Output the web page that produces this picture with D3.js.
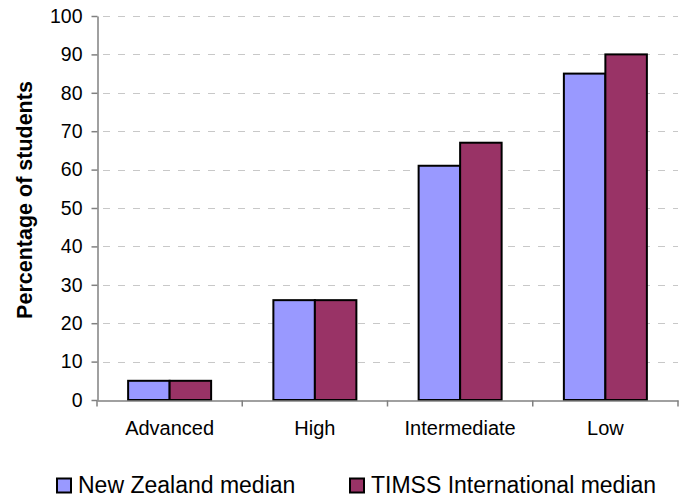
<!DOCTYPE html>
<html>
<head>
<meta charset="utf-8">
<script src="https://cdn.jsdelivr.net/npm/d3@7"></script>
<style>
  html, body { margin: 0; padding: 0; background: #fff; }
  svg { display: block; }
  text { font-family: "Liberation Sans", Arial, sans-serif; fill: #000; }
</style>
</head>
<body>
<svg id="chart" width="687" height="499"></svg>
<script>
const categories = ["Advanced", "High", "Intermediate", "Low"];
const seriesNames = ["New Zealand median", "TIMSS International median"];
const nzValues = [5, 26, 61, 85];
const timssValues = [5, 26, 67, 90];
const yTicks = [0, 10, 20, 30, 40, 50, 60, 70, 80, 90, 100];
const colors = ["#9999FF", "#993366"];

(function () {
const svg = d3.select("#chart");
const pLeft = 97, pRight = 678, pTop = 16, pBottom = 400;

const x = d3.scaleBand().domain(categories).range([pLeft, pRight]).paddingInner(0).paddingOuter(0);
const xs = d3.scaleBand().domain([0, 1]).range([0, x.bandwidth()]).paddingInner(0).paddingOuter(0.75);
const y = d3.scaleLinear().domain([0, 100]).range([pBottom, pTop]);

// gridlines
svg.append("g").selectAll("line").data(yTicks.filter(d => d > 0)).join("line")
  .attr("x1", pLeft + 1).attr("x2", pRight)
  .attr("y1", d => Math.round(y(d)) + 0.5).attr("y2", d => Math.round(y(d)) + 0.5)
  .attr("stroke", "#c8c8c8").attr("stroke-width", 1)
  .attr("stroke-dasharray", "7,8").attr("stroke-dashoffset", -5);

// bars
const series = [nzValues, timssValues];
series.forEach((vals, si) => {
  svg.append("g").selectAll("rect").data(categories).join("rect")
    .attr("x", (c) => x(c) + xs(si))
    .attr("y", (c, i) => y(vals[i]))
    .attr("width", xs.bandwidth())
    .attr("height", (c, i) => y(0) - y(vals[i]))
    .attr("fill", colors[si])
    .attr("stroke", "#000").attr("stroke-width", 2);
});

// y axis
const yAxis = d3.axisLeft(y).tickValues(yTicks).tickSize(6).tickPadding(9).tickSizeOuter(0);
const gy = svg.append("g").attr("transform", `translate(${pLeft + 0.5},0)`).call(yAxis);
gy.select(".domain").attr("stroke", "#808080").attr("stroke-width", 1.5);
gy.selectAll(".tick line").attr("stroke", "#808080").attr("stroke-width", 1.5);
gy.selectAll(".tick text").attr("font-size", "19.5px").attr("font-family", "Liberation Sans, Arial, sans-serif").attr("fill", "#000");

// x axis
const xAxis = d3.axisBottom(x).tickSize(0).tickSizeOuter(0).tickPadding(20);
const gx = svg.append("g").attr("transform", `translate(0,${pBottom + 0.5})`).call(xAxis);
gx.select(".domain").attr("stroke", "#808080").attr("stroke-width", 1.5);
gx.selectAll(".tick text").attr("font-size", "20px").attr("font-family", "Liberation Sans, Arial, sans-serif").attr("fill", "#000");
const bounds = categories.map(c => x(c)).concat([pRight]);
gx.append("g").selectAll("line").data(bounds).join("line")
  .attr("x1", d => d).attr("x2", d => d)
  .attr("y1", 0).attr("y2", 6)
  .attr("stroke", "#808080").attr("stroke-width", 1.5);

// y title
svg.append("text")
  .attr("transform", `translate(32,200) rotate(-90)`)
  .attr("text-anchor", "middle")
  .attr("font-size", "21.5px").attr("font-weight", "bold")
  .text("Percentage of students");

// legend
const legendX = [56, 349];
seriesNames.forEach((name, i) => {
  const g = svg.append("g").attr("transform", `translate(${legendX[i]},0)`);
  g.append("rect").attr("x", 1).attr("y", 478.5).attr("width", 14).attr("height", 14)
    .attr("fill", colors[i]).attr("stroke", "#000").attr("stroke-width", 2);
  g.append("text").attr("x", 22).attr("y", 493).attr("font-size", "23px").text(name);
});
})();
</script>
</body>
</html>
